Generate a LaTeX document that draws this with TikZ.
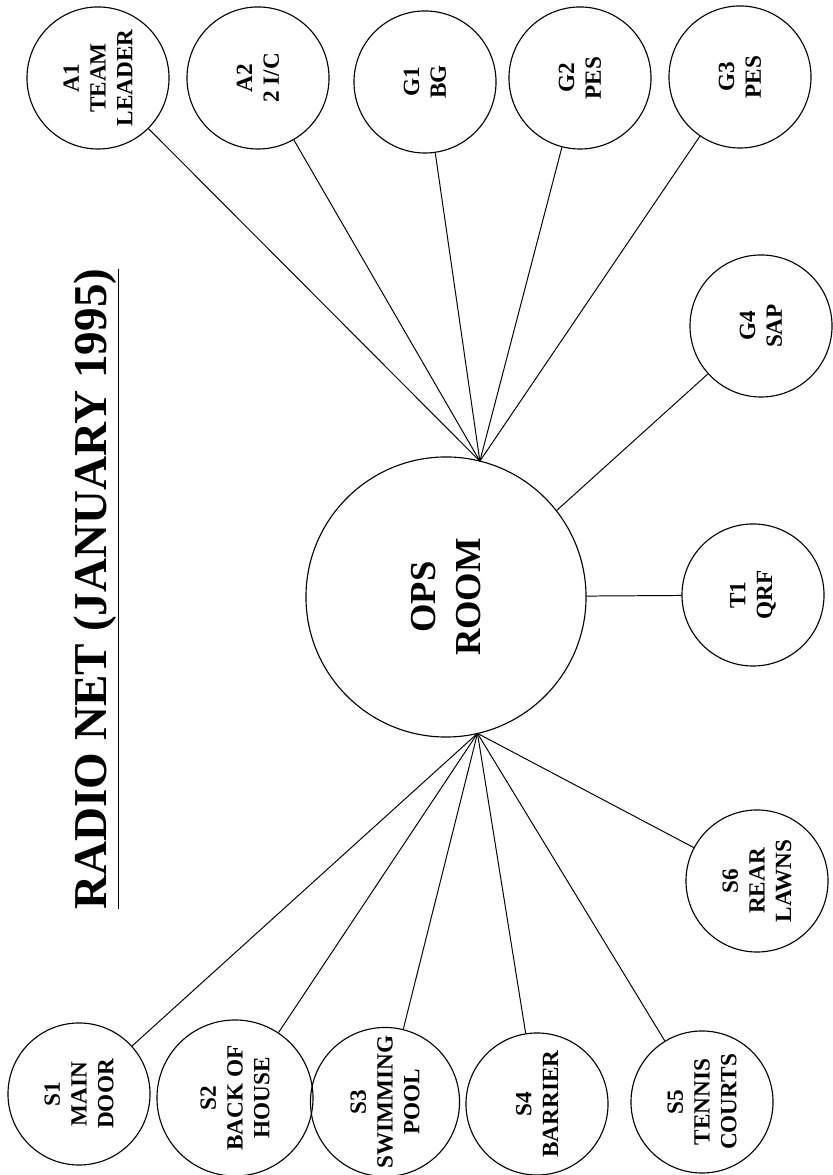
\documentclass[tikz,border=0pt]{standalone}
\usepackage{fontspec}
\setmainfont{Liberation Serif}
\usepackage{tikz}
\usetikzlibrary{calc}

\begin{document}
\begin{tikzpicture}[
  x=0.025cm, y=0.025cm,
  line width=0.8pt,
  stn/.style={circle, draw, inner sep=0pt, minimum size=3.55cm, rotate=90, align=center,
    font=\bfseries\fontsize{16.5}{19}\selectfont},
  hub/.style={stn, minimum size=7cm, font=\bfseries\fontsize{26}{32}\selectfont},
  link/.style={draw, line width=0.7pt},
]
\useasboundingbox (0,0) rectangle (833,1175);
\node[rotate=90, anchor=base, font=\bfseries\fontsize{33.5}{40}\selectfont] (title) at (106,586)
  {\underline{RADIO NET (JANUARY 1995)}};
\node[hub] (ops) at (446,578) {OPS\\ROOM};
% top row
\node[stn] (a1) at (98,1097) {A1\\TEAM\\LEADER};
\node[stn] (a2) at (258,1097) {A2\\2 I/C};
\node[stn] (g1) at (425,1093) {G1\\BG};
\node[stn] (g2) at (580,1097) {G2\\PES};
\node[stn] (g3) at (740,1098) {G3\\PES};
\node[stn] (g4) at (761,849) {G4\\SAP};
\node[stn] (t1) at (753,580) {T1\\QRF};
% bottom row
\node[stn] (s6) at (757,294) {S6\\REAR\\LAWNS};
\node[stn] (s5) at (702,73) {S5\\TENNIS\\COURTS};
\node[stn] (s4) at (537,71) {S4\\BARRIER};
\node[stn] (s3) at (385,73) {S3\\SWIMMING\\POOL};
\node[stn, minimum size=3.9cm] (s2) at (235,77) {S2\\BACK OF\\HOUSE};
\node[stn] (s1) at (79,81) {S1\\MAIN\\DOOR};
\coordinate (hubN) at ($(ops.center)+(76:140)$);
\coordinate (hubS) at ($(ops.center)+(-77:140)$);
\coordinate (hubE) at ($(ops.center)+(38:140)$);
\foreach \n in {a1,a2,g1,g2,g3}
  \draw[link] (hubN) -- (\n);
\foreach \n in {s1,s2,s3,s4,s5,s6}
  \draw[link] (hubS) -- (\n);
\draw[link] (hubE) -- (g4);
\draw[link] (ops) -- (t1);
\end{tikzpicture}
\end{document}
